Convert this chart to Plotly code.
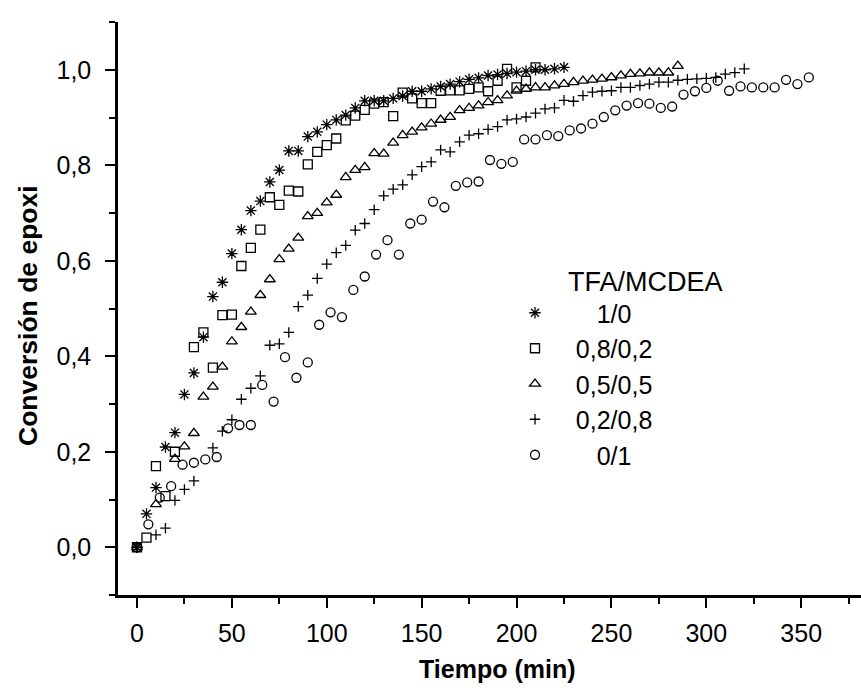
import plotly.graph_objects as go

# ---- data ----
t_10 = [0, 5, 10, 15, 20, 25, 30, 35, 40, 45, 50, 55, 60, 65, 70, 75, 80, 85, 90, 95,
        100, 105, 110, 115, 120, 125, 130, 135, 140, 145, 150, 155, 160, 165, 170, 175,
        180, 185, 190, 195, 200, 205, 210, 215, 220, 225]
c_10 = [0.0, 0.07, 0.125, 0.21, 0.24, 0.32, 0.365, 0.44, 0.525, 0.555, 0.615, 0.665, 0.705,
        0.725, 0.765, 0.79, 0.83, 0.83, 0.86, 0.87, 0.885, 0.895, 0.905, 0.92, 0.935, 0.935,
        0.935, 0.94, 0.945, 0.955, 0.955, 0.96, 0.965, 0.97, 0.975, 0.98, 0.983, 0.988, 0.99,
        0.992, 0.995, 0.997, 1.0, 1.0, 1.002, 1.005]

t_82 = [0, 5, 10, 15, 20, 30, 35, 40, 45, 50, 55, 60, 65, 70, 75, 80, 85, 90, 95, 100,
        105, 110, 115, 120, 125, 130, 135, 140, 145, 150, 155, 160, 165, 170, 175, 180,
        185, 190, 195, 200, 205, 210]
c_82 = [0.0, 0.02, 0.17, 0.107, 0.2, 0.419, 0.45, 0.376, 0.486, 0.487, 0.589, 0.627, 0.665,
        0.733, 0.717, 0.747, 0.745, 0.802, 0.828, 0.842, 0.856, 0.894, 0.904, 0.916, 0.929,
        0.932, 0.903, 0.952, 0.94, 0.93, 0.93, 0.956, 0.957, 0.957, 0.96, 0.963, 0.955,
        0.977, 1.002, 0.963, 0.977, 1.005]

t_55 = [0, 10, 20, 25, 30, 35, 40, 45, 50, 55, 60, 65, 70, 75, 80, 85, 90, 95, 100, 105,
        110, 115, 120, 125, 130, 135, 140, 145, 150, 155, 160, 165, 170, 175, 180, 185,
        190, 195, 200, 205, 210, 215, 220, 225, 230, 235, 240, 245, 250, 255, 260, 265,
        270, 275, 280, 285]
c_55 = [0.0, 0.09, 0.185, 0.211, 0.239, 0.315, 0.336, 0.378, 0.431, 0.461, 0.493, 0.528,
        0.561, 0.603, 0.625, 0.648, 0.693, 0.70, 0.722, 0.738, 0.775, 0.79, 0.796, 0.825,
        0.824, 0.847, 0.863, 0.870, 0.879, 0.887, 0.895, 0.901, 0.915, 0.920, 0.925, 0.932,
        0.936, 0.946, 0.956, 0.960, 0.963, 0.963, 0.967, 0.970, 0.974, 0.977, 0.979, 0.981,
        0.984, 0.988, 0.991, 0.992, 0.994, 0.994, 0.994, 1.008]

t_28 = [0, 10, 15, 20, 25, 30, 40, 45, 50, 55, 60, 65, 70, 75, 80, 85, 90, 95, 100, 105,
        110, 115, 120, 125, 130, 135, 140, 145, 150, 155, 160, 165, 170, 175, 180, 185,
        190, 195, 200, 205, 210, 215, 220, 225, 230, 235, 240, 245, 250, 255, 260, 265,
        270, 275, 280, 285, 290, 295, 300, 305, 310, 315, 320]
c_28 = [0.0, 0.026, 0.04, 0.098, 0.121, 0.139, 0.208, 0.243, 0.267, 0.31, 0.333, 0.359,
        0.423, 0.426, 0.45, 0.504, 0.528, 0.563, 0.593, 0.617, 0.632, 0.664, 0.678, 0.707,
        0.736, 0.75, 0.759, 0.78, 0.797, 0.807, 0.832, 0.828, 0.849, 0.863, 0.866, 0.875,
        0.881, 0.895, 0.897, 0.901, 0.909, 0.918, 0.92, 0.936, 0.934, 0.946, 0.953, 0.955,
        0.956, 0.963, 0.963, 0.967, 0.970, 0.974, 0.974, 0.978, 0.980, 0.981, 0.982, 0.984,
        0.991, 0.994, 1.002]

t_01 = [0, 6, 12, 18, 24, 30, 36, 42, 48, 54, 60, 66, 72, 78, 84, 90, 96, 102, 108, 114,
        120, 126, 132, 138, 144, 150, 156, 162, 168, 174, 180, 186, 192, 198, 204, 210,
        216, 222, 228, 234, 240, 246, 252, 258, 264, 270, 276, 282, 288, 294, 300, 306,
        312, 318, 324, 330, 336, 342, 348, 354]
c_01 = [0.0, 0.048, 0.104, 0.128, 0.173, 0.177, 0.184, 0.189, 0.249, 0.256,
        0.256, 0.34, 0.305, 0.398, 0.355, 0.387, 0.466, 0.492, 0.482, 0.539,
        0.567, 0.613, 0.643, 0.613, 0.678, 0.686, 0.724, 0.712, 0.757, 0.764,
        0.766, 0.811, 0.803, 0.807, 0.854, 0.854, 0.863, 0.861, 0.873, 0.877,
        0.887, 0.901, 0.915, 0.925, 0.930, 0.929, 0.920, 0.923, 0.948, 0.955,
        0.962, 0.977, 0.956, 0.965, 0.963, 0.963, 0.963, 0.979, 0.970, 0.984]

labels = ["1/0", "0,8/0,2", "0,5/0,5", "0,2/0,8", "0/1"]
legend_title = "TFA/MCDEA"
x_ticks = [0, 50, 100, 150, 200, 250, 300, 350]
y_ticks = [0.0, 0.2, 0.4, 0.6, 0.8, 1.0]

series = [
    (t_10, c_10, labels[0], "asterisk-open", 9.5),
    (t_82, c_82, labels[1], "square-open", 9),
    (t_55, c_55, labels[2], "triangle-up-open", 9.5),
    (t_28, c_28, labels[3], "cross-thin-open", 7.5),
    (t_01, c_01, labels[4], "circle-open", 9),
]

NB = "\u00a0"
pads = [NB * 6, NB * 3, NB * 3, NB * 3, NB * 6]

fig = go.Figure()
for i, (xs, ys, name, sym, sz) in enumerate(series):
    fig.add_trace(go.Scatter(
        x=xs, y=ys, mode="markers", name=pads[i] + name,
        marker=dict(symbol=sym, size=sz, color="black",
                    line=dict(color="black", width=1.3)),
    ))

FONT = "Liberation Sans, Arial, sans-serif"
L, R, T, B = 118, 0, 22, 96
W, H = 861, 691
pw, ph = W - L - R, H - T - B

def px(xp):
    return (xp - L) / pw

def py(yp):
    return (H - B - yp) / ph

fig.update_layout(
    width=W, height=H,
    margin=dict(l=L, r=R, t=T, b=B),
    paper_bgcolor="white", plot_bgcolor="white",
    separators=",.",
    font=dict(family=FONT, size=25, color="black"),
    showlegend=True,
    legend=dict(x=px(515), y=py(290), xanchor="left", yanchor="top",
                font=dict(family=FONT, size=25, color="black"),
                traceorder="normal",
                bgcolor="rgba(0,0,0,0)", borderwidth=0),
    xaxis=dict(range=[-10, 381.5], tickvals=x_ticks, ticks="outside", ticklen=10,
               tickwidth=2, tickcolor="black", showline=True, linewidth=2.5,
               linecolor="black", showgrid=False, zeroline=False,
               ticklabelstandoff=4,
               tickfont=dict(family=FONT, size=25, color="black"),
               minor=dict(dtick=25, tick0=0, ticks="outside", ticklen=6,
                          tickwidth=2, tickcolor="black", showgrid=False)),
    yaxis=dict(range=[-0.1, 1.1], tickvals=y_ticks, tickformat=".1f",
               ticks="outside", ticklen=10, tickwidth=2, tickcolor="black",
               showline=True, linewidth=2.5, linecolor="black", showgrid=False,
               zeroline=False, ticklabelstandoff=9,
               tickfont=dict(family=FONT, size=25, color="black"),
               minor=dict(dtick=0.1, tick0=0, ticks="outside", ticklen=6,
                          tickwidth=2, tickcolor="black", showgrid=False)),
    annotations=[
        dict(text="<b>Conversión de epoxi</b>", textangle=-90, xref="paper",
             yref="paper", x=px(28), y=py(316), xanchor="center", yanchor="middle",
             showarrow=False, font=dict(family=FONT, size=26.5, color="black")),
        dict(text="<b>Tiempo (min)</b>", xref="paper", yref="paper",
             x=px(497), y=py(669), xanchor="center", yanchor="middle",
             showarrow=False, font=dict(family=FONT, size=25, color="black")),
        dict(text=legend_title, xref="paper", yref="paper",
             x=px(566), y=py(282), xanchor="left", yanchor="middle",
             showarrow=False, font=dict(family=FONT, size=27, color="black")),
    ],
)

fig.write_html("out.html")
